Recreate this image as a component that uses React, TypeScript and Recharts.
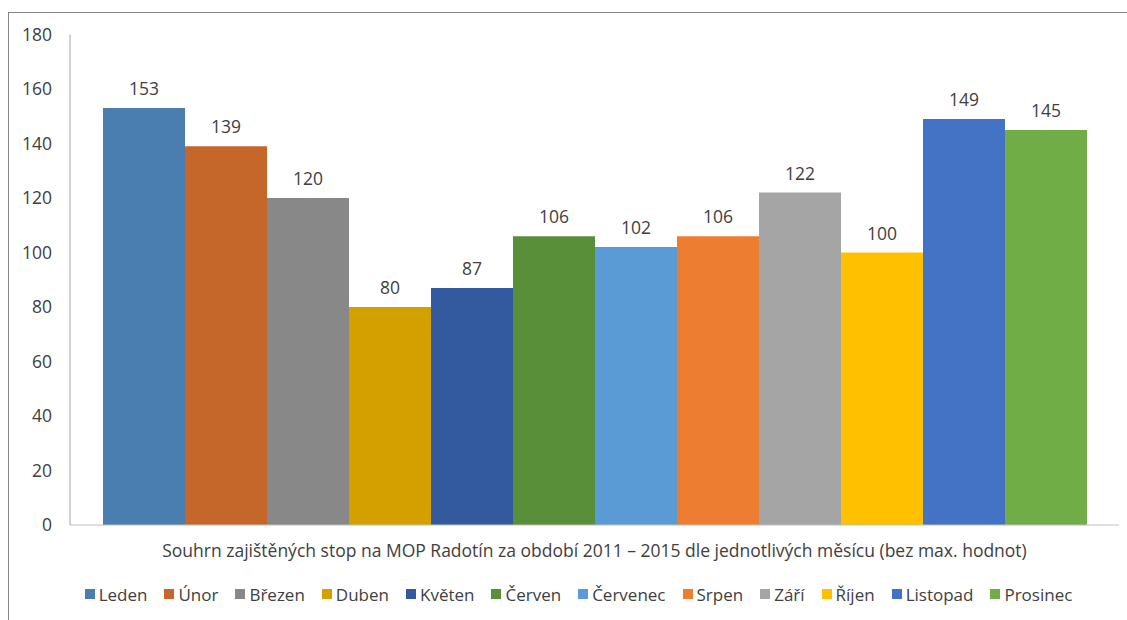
import React from 'react';
import { BarChart, Bar, XAxis, YAxis, LabelList, Legend } from 'recharts';

const months = ['Leden', 'Únor', 'Březen', 'Duben', 'Květen', 'Červen', 'Červenec', 'Srpen', 'Září', 'Říjen', 'Listopad', 'Prosinec'];
const values = [153, 139, 120, 80, 87, 106, 102, 106, 122, 100, 149, 145];
const colors = ['#4A7EB0', '#C5662B', '#888888', '#D4A000', '#335A9E', '#5A8F3A', '#5B9BD5', '#ED7D31', '#A5A5A5', '#FFC000', '#4472C4', '#70AD47'];
const yTicks = [0, 20, 40, 60, 80, 100, 120, 140, 160, 180];
const axisTitle = 'Souhrn zajištěných stop na MOP Radotín za období 2011 – 2015 dle jednotlivých měsícu (bez max. hodnot)';

const row: Record<string, any> = { name: 'all' };
months.forEach((m, i) => { row[m] = values[i]; });
const data = [row];

const FONT = '"Open Sans", "Noto Sans", sans-serif';
const TEXT = '#404040';

const LegendContent = () => (
  <div style={{ display: 'flex', justifyContent: 'center', alignItems: 'center', height: 44, boxSizing: 'border-box', paddingTop: 4, paddingLeft: 38, fontFamily: FONT, fontSize: 17, color: TEXT, gap: 17 }}>
    {months.map((m, i) => (
      <div key={m} style={{ display: 'flex', alignItems: 'center' }}>
        <span style={{ display: 'inline-block', width: 10, height: 10, background: colors[i], marginRight: 4 }} />
        <span>{m}</span>
      </div>
    ))}
  </div>
);

const AxisTitle = (props: any) => {
  const vb = props.viewBox || {};
  return (
    <text x={vb.x + vb.width / 2} y={vb.y + 32} textAnchor="middle" fontFamily={FONT} fontSize={17.5} fill={TEXT}>
      {axisTitle}
    </text>
  );
};

export default function App() {
  return (
    <div style={{ position: 'absolute', left: 0, top: 0, width: 1127, height: 620, background: '#fff', overflow: 'hidden' }}>
      <div style={{ position: 'absolute', left: 8, top: 12, width: 1200, height: 700, borderLeft: '1px solid #868686', borderTop: '1px solid #868686' }} />
      <div style={{ position: 'absolute', left: 0, top: 0 }}>
        <BarChart width={1127} height={620} data={data} margin={{ top: 34.5, right: 8, bottom: 6, left: 0 }} barSize={82} barGap={0}>
          <XAxis dataKey="name" tick={false} tickLine={false} height={45} axisLine={{ stroke: '#BFBFBF' }} label={<AxisTitle />} />
          <YAxis width={70} domain={[0, 180]} ticks={yTicks} interval={0} tickLine={false} tickSize={0} tickMargin={18} axisLine={{ stroke: '#A6A6A6' }} tick={{ fill: TEXT, fontSize: 17.5, fontFamily: FONT }} />
          <Legend verticalAlign="bottom" height={44} content={<LegendContent />} />
          {months.map((m, i) => (
            <Bar key={m} dataKey={m} fill={colors[i]} isAnimationActive={false}>
              <LabelList dataKey={m} position="top" offset={13} fill={TEXT} fontSize={17.5} fontFamily={FONT} />
            </Bar>
          ))}
        </BarChart>
      </div>
    </div>
  );
}
